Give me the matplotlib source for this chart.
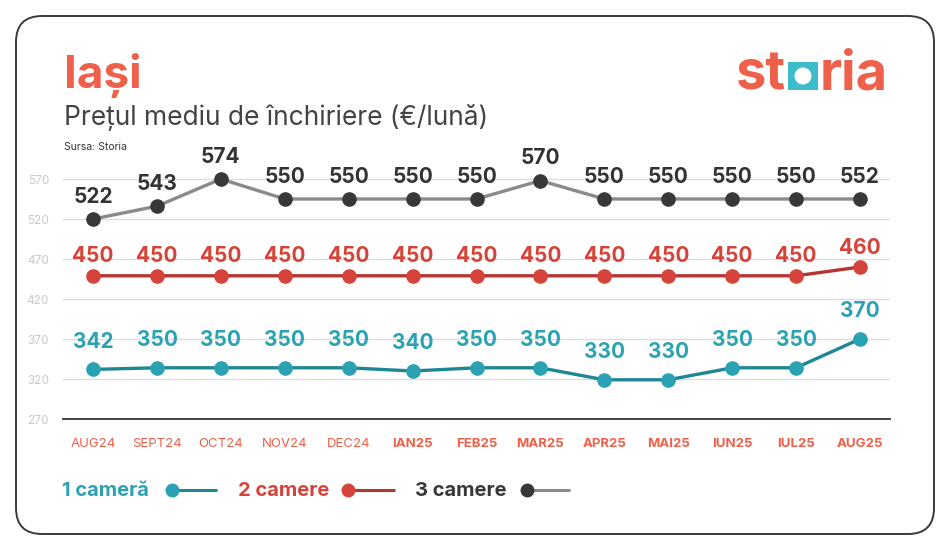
import matplotlib
matplotlib.use("Agg")
import matplotlib.pyplot as plt
from matplotlib.patches import FancyBboxPatch, Rectangle, Circle

plt.rcParams['font.family'] = ['Inter', 'DejaVu Sans']

luni = ["AUG24", "SEPT24", "OCT24", "NOV24", "DEC24", "IAN25", "FEB25",
        "MAR25", "APR25", "MAI25", "IUN25", "IUL25", "AUG25"]
# pozitiile punctelor asa cum apar pe axa
pret_1cam = [332, 334, 334, 334, 334, 330, 334, 334, 319, 319, 334, 334, 370]
pret_2cam = [449, 449, 449, 449, 449, 449, 449, 449, 449, 449, 449, 449, 460]
pret_3cam = [520, 536, 570, 545, 545, 545, 545, 568, 545, 545, 545, 545, 545]
# valorile scrise deasupra punctelor
etichete_1cam = [342, 350, 350, 350, 350, 340, 350, 350, 330, 330, 350, 350, 370]
etichete_2cam = [450, 450, 450, 450, 450, 450, 450, 450, 450, 450, 450, 450, 460]
etichete_3cam = [522, 543, 574, 550, 550, 550, 550, 570, 550, 550, 550, 550, 552]
y_ticks = [270, 320, 370, 420, 470, 520, 570]

coral = "#EE6049"
teal_pt = "#2BA2B4"
teal_ln = "#1E8796"
red_pt = "#D5443A"
red_ln = "#B5362E"
dark_pt = "#383838"
gray_ln = "#8A8A8A"

W, H = 950, 550
fig = plt.figure(figsize=(9.5, 5.5), dpi=100)

# fundal in coordonate pixel
bg = fig.add_axes([0, 0, 1, 1])
bg.set_xlim(0, W)
bg.set_ylim(H, 0)
bg.axis("off")
bg.add_patch(FancyBboxPatch((16, 16), 918, 518, boxstyle="round,pad=0,rounding_size=26",
                            fc="white", ec="#3a3a3a", lw=1.4))

bg.text(64, 88, "Iași", color=coral, fontsize=33, fontweight="bold", va="baseline")
bg.text(64, 125, "Prețul mediu de închiriere (€/lună)", color="#444444",
        fontsize=19, va="baseline")
bg.text(64, 150, "Sursa: Storia", color="#333333", fontsize=7.5, va="baseline")

# logo storia
bg.text(786, 90, "st", color=coral, fontsize=39, fontweight="bold", ha="right", va="baseline")
bg.add_patch(Rectangle((788, 62), 30, 28, fc="#3DBCCB", ec="none"))
bg.add_patch(Circle((803, 76), 8.5, fc="white", ec="none"))
bg.text(820, 90, "ria", color=coral, fontsize=39, fontweight="bold", ha="left", va="baseline")

# legenda
leg = [("1 cameră", teal_pt, teal_ln, 62, 172, 217),
       ("2 camere", red_pt, red_ln, 238, 348, 395),
       ("3 camere", dark_pt, gray_ln, 415, 527, 570)]
for txt, cp, cl, xt, xm, xe in leg:
    bg.text(xt, 496, txt, color=cp, fontsize=14.5, fontweight="bold", va="baseline")
    bg.plot([xm, xe], [490, 490], color=cl, lw=2.2, solid_capstyle="butt")
    bg.plot([xm], [490], "o", color=cp, ms=9)

# graficul
ax = fig.add_axes([63 / W, 1 - 419 / H, (890 - 63) / W, 256 / H])
ax.set_facecolor("none")
x = list(range(len(luni)))

serii = [(pret_3cam, etichete_3cam, dark_pt, gray_ln, "#333333", 16),
         (pret_2cam, etichete_2cam, red_pt, red_ln, red_pt, 14),
         (pret_1cam, etichete_1cam, teal_pt, teal_ln, teal_pt, 20)]
for vals, labs, cp, cl, ct, off in serii:
    ax.plot(x, vals, color=cl, lw=2.4, zorder=3)
    ax.plot(x, vals, "o", color=cp, ms=9.5, zorder=4)
    for xi, v, l in zip(x, vals, labs):
        ax.annotate(str(l), (xi, v), xytext=(0, off), textcoords="offset points",
                    ha="center", va="center", color=ct, fontsize=15, fontweight="bold")

ax.set_xlim(-0.47, 12.47)
ax.set_ylim(270, 590)
ax.set_yticks(y_ticks)
ax.set_yticklabels([str(t) for t in y_ticks])
ax.grid(axis="y", color="#dddddd", lw=1)
ax.set_axisbelow(True)
for s in ["top", "right", "left"]:
    ax.spines[s].set_visible(False)
ax.spines["bottom"].set_color("#333333")
ax.spines["bottom"].set_linewidth(1.3)
ax.tick_params(axis="y", length=0, pad=10, labelsize=8.5, labelcolor="#c8c8c8")
ax.tick_params(axis="x", length=0, pad=14, labelsize=9.5, labelcolor=coral)
ax.set_xticks(x)
ax.set_xticklabels(luni)
for i, t in enumerate(ax.get_xticklabels()):
    if i >= 5:
        t.set_fontweight("bold")

fig.savefig("out.png", dpi=100)
